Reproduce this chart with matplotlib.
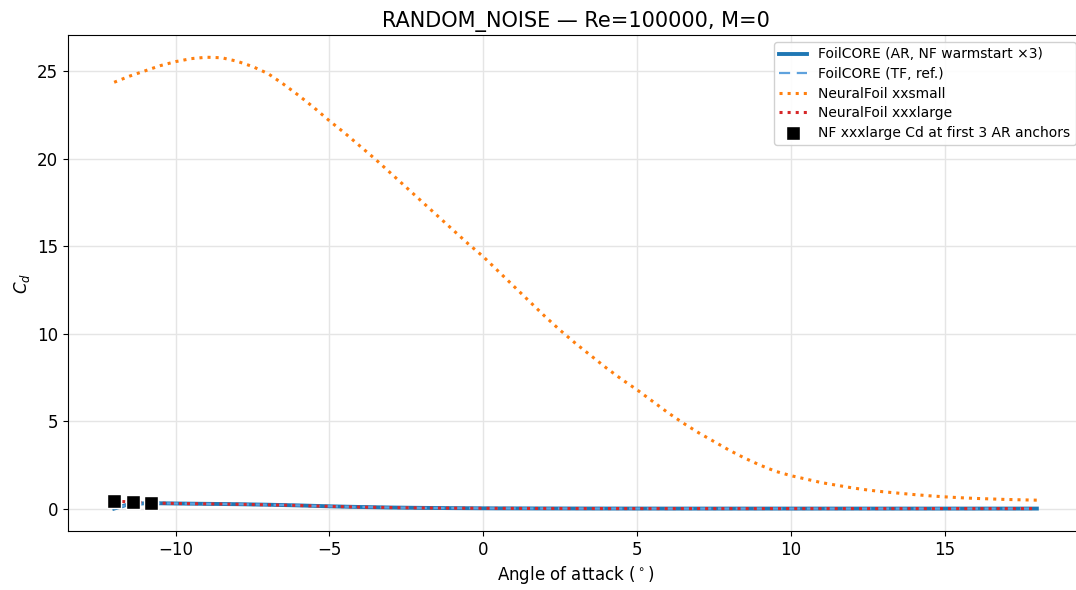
import numpy as np
import matplotlib
matplotlib.use("Agg")
import matplotlib.pyplot as plt

alpha = [-12.0, -11.5, -11.0, -10.5, -10.0, -9.5, -9.0, -8.5, -8.0, -7.5, -7.0, -6.5, -6.0, -5.5,
         -5.0, -4.5, -4.0, -3.5, -3.0, -2.5, -2.0, -1.5, -1.0, -0.5, 0.0, 0.5, 1.0, 1.5, 2.0, 2.5,
         3.0, 3.5, 4.0, 4.5, 5.0, 5.5, 6.0, 6.5, 7.0, 7.5, 8.0, 8.5, 9.0, 9.5, 10.0, 10.5, 11.0,
         11.5, 12.0, 12.5, 13.0, 13.5, 14.0, 14.5, 15.0, 15.5, 16.0, 16.5, 17.0, 17.5, 18.0]

cd_xxsmall = [24.35, 24.7, 25.0, 25.3, 25.53, 25.7, 25.78, 25.75, 25.55, 25.25, 24.85, 24.25, 23.6, 22.9,
              22.15, 21.45, 20.7, 19.95, 19.15, 18.35, 17.55, 16.75, 15.95, 15.15, 14.4, 13.55, 12.7, 11.85, 11.0, 10.2,
              9.45, 8.75, 8.05, 7.4, 6.8, 6.15, 5.5, 4.9, 4.35, 3.85, 3.35, 2.9, 2.5, 2.15, 1.9, 1.7, 1.5,
              1.35, 1.2, 1.08, 0.98, 0.9, 0.82, 0.75, 0.69, 0.64, 0.6, 0.57, 0.54, 0.52, 0.5]

cd_ar = [0.02, 0.28, 0.32, 0.32, 0.31, 0.30, 0.29, 0.28, 0.27, 0.255, 0.24, 0.22, 0.20, 0.175,
         0.15, 0.13, 0.11, 0.095, 0.08, 0.07, 0.06, 0.052, 0.045, 0.04, 0.035, 0.032, 0.030, 0.028, 0.026, 0.025,
         0.024, 0.023, 0.022, 0.022, 0.021, 0.021, 0.020, 0.020, 0.020, 0.020, 0.020, 0.020, 0.020, 0.020, 0.020, 0.020, 0.020,
         0.020, 0.020, 0.020, 0.020, 0.020, 0.020, 0.020, 0.020, 0.020, 0.020, 0.020, 0.020, 0.020, 0.020]

cd_tf = [0.03, 0.27, 0.31, 0.32, 0.31, 0.30, 0.29, 0.28, 0.27, 0.255, 0.24, 0.22, 0.20, 0.175,
         0.15, 0.13, 0.11, 0.095, 0.08, 0.07, 0.06, 0.052, 0.045, 0.04, 0.035, 0.032, 0.030, 0.028, 0.026, 0.025,
         0.024, 0.023, 0.022, 0.022, 0.021, 0.021, 0.020, 0.020, 0.020, 0.020, 0.020, 0.020, 0.020, 0.020, 0.020, 0.020, 0.020,
         0.020, 0.020, 0.020, 0.020, 0.020, 0.020, 0.020, 0.020, 0.020, 0.020, 0.020, 0.020, 0.020, 0.020]

cd_xxxlarge = [0.45, 0.40, 0.36, 0.33, 0.31, 0.30, 0.29, 0.28, 0.265, 0.25, 0.235, 0.215, 0.195, 0.17,
               0.145, 0.125, 0.105, 0.09, 0.078, 0.068, 0.058, 0.05, 0.044, 0.039, 0.034, 0.031, 0.029, 0.027, 0.025, 0.024,
               0.023, 0.022, 0.021, 0.021, 0.020, 0.020, 0.020, 0.020, 0.020, 0.020, 0.020, 0.020, 0.020, 0.020, 0.020, 0.020, 0.020,
               0.020, 0.020, 0.020, 0.020, 0.020, 0.020, 0.020, 0.020, 0.020, 0.020, 0.020, 0.020, 0.020, 0.020]

anchor_alpha = [-12.0, -11.4, -10.8]
anchor_cd = [0.48, 0.40, 0.34]

fig = plt.figure(figsize=(10.76, 5.90), dpi=100)
ax = fig.add_axes([0.0632, 0.1, 0.9433, 0.8407])

ax.plot(alpha, cd_ar, color="#1f77b4", lw=2.8, label="FoilCORE (AR, NF warmstart ×3)")
ax.plot(alpha, cd_tf, color="#5fa2dd", lw=1.6, ls=(0, (5, 3)), label="FoilCORE (TF, ref.)")
ax.plot(alpha, cd_xxsmall, color="#ff7f0e", lw=2.2, ls=":", label="NeuralFoil xxsmall")
ax.plot(alpha, cd_xxxlarge, color="#d62728", lw=2.2, ls=":", label="NeuralFoil xxxlarge")
ax.scatter(anchor_alpha, anchor_cd, marker="s", s=110, color="black", edgecolors="white",
           linewidths=1.0, zorder=5, label="NF xxxlarge Cd at first 3 AR anchors")

ax.set_xlim(-13.5, 19.5)
ax.set_ylim(-1.26, 27.05)
ax.grid(True, color="#e5e5e5", lw=1.0)
ax.set_axisbelow(True)
ax.tick_params(labelsize=12)
ax.set_xlabel("Angle of attack ($^\\circ$)", fontsize=12)
ax.set_ylabel("$C_d$", fontsize=12)
ax.set_title("RANDOM_NOISE — Re=100000, M=0", fontsize=15)
ax.legend(loc="upper right", fontsize=10, framealpha=0.9, borderaxespad=0.5,
          handlelength=2.0, labelspacing=0.4)

fig.savefig("out.png", dpi=100)
